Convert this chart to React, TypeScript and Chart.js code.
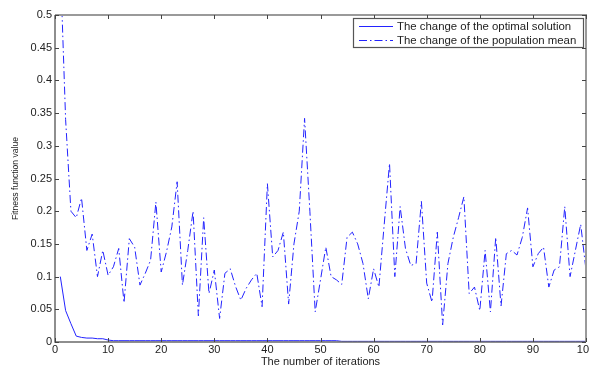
import React, { useEffect, useRef } from "react";
import { Chart, registerables } from "chart.js";

Chart.register(...registerables);

const ITERATIONS = [
  1, 2, 3, 4, 5, 6, 7, 8, 9, 10, 11, 12, 13, 14, 15, 16, 17, 18, 19, 20,
  21, 22, 23, 24, 25, 26, 27, 28, 29, 30, 31, 32, 33, 34, 35, 36, 37, 38, 39, 40,
  41, 42, 43, 44, 45, 46, 47, 48, 49, 50, 51, 52, 53, 54, 55, 56, 57, 58, 59, 60,
  61, 62, 63, 64, 65, 66, 67, 68, 69, 70, 71, 72, 73, 74, 75, 76, 77, 78, 79, 80,
  81, 82, 83, 84, 85, 86, 87, 88, 89, 90, 91, 92, 93, 94, 95, 96, 97, 98, 99, 100,
];

const OPTIMAL = [
  0.1, 0.048, 0.028, 0.009, 0.007, 0.006, 0.006, 0.005, 0.005, 0.003,
  0.002, 0.002, 0.002, 0.002, 0.002, 0.002, 0.002, 0.002, 0.002, 0.002,
  0.002, 0.002, 0.002, 0.002, 0.002, 0.002, 0.002, 0.002, 0.002, 0.002,
  0.002, 0.002, 0.002, 0.002, 0.002, 0.002, 0.002, 0.002, 0.002, 0.002,
  0.002, 0.002, 0.002, 0.002, 0.002, 0.002, 0.002, 0.002, 0.002, 0.002,
  0.002, 0.002, 0.002, 0.001, 0.001, 0.001, 0.001, 0.001, 0.001, 0.001,
  0.001, 0.001, 0.001, 0.001, 0.001, 0.001, 0.001, 0.001, 0.001, 0.001,
  0.001, 0.001, 0.001, 0.001, 0.001, 0.001, 0.001, 0.001, 0.001, 0.001,
  0.001, 0.001, 0.001, 0.001, 0.001, 0.001, 0.001, 0.001, 0.001, 0.001,
  0.001, 0.001, 0.001, 0.001, 0.001, 0.001, 0.001, 0.001, 0.001, 0.001,
];

const POP_MEAN = [
  0.58, 0.34, 0.2, 0.19, 0.22, 0.14, 0.165, 0.1, 0.14, 0.102,
  0.115, 0.143, 0.06, 0.158, 0.145, 0.087, 0.105, 0.125, 0.214, 0.107,
  0.138, 0.176, 0.245, 0.087, 0.14, 0.2, 0.04, 0.19, 0.074, 0.11,
  0.036, 0.105, 0.112, 0.085, 0.064, 0.082, 0.095, 0.105, 0.054, 0.242,
  0.13, 0.14, 0.168, 0.058, 0.15, 0.2, 0.342, 0.2, 0.046, 0.095,
  0.145, 0.1, 0.095, 0.088, 0.16, 0.168, 0.15, 0.12, 0.066, 0.112,
  0.084, 0.18, 0.273, 0.1, 0.207, 0.143, 0.117, 0.12, 0.215, 0.09,
  0.061, 0.168, 0.026, 0.12, 0.16, 0.19, 0.222, 0.074, 0.084, 0.048,
  0.14, 0.046, 0.16, 0.055, 0.135, 0.14, 0.133, 0.16, 0.205, 0.115,
  0.135, 0.145, 0.084, 0.11, 0.115, 0.207, 0.1, 0.14, 0.18, 0.11,
];

const X_TICKS = [0, 10, 20, 30, 40, 50, 60, 70, 80, 90, 100];
const Y_TICKS = [0, 0.05, 0.1, 0.15, 0.2, 0.25, 0.3, 0.35, 0.4, 0.45, 0.5];
const Y_TICK_LABELS = ["0", "0.05", "0.1", "0.15", "0.2", "0.25", "0.3", "0.35", "0.4", "0.45", "0.5"];

const SERIES_NAMES = ["The change of the optimal solution", "The change of the population mean"];
const X_TITLE = "The number of iterations";
const Y_TITLE = "Fitness function value";

const LINE_COLOR = "rgb(35,35,255)";
const DASH_DOT = [8, 3, 1.5, 3];
const FONT = "'Liberation Sans', Arial, sans-serif";

const boxPlugin = {
  id: "matlabBox",
  afterDatasetsDraw(chart: any) {
    const { ctx, chartArea } = chart;
    const { left, right, top, bottom } = chartArea;
    const xs = chart.scales.x;
    const ys = chart.scales.y;
    ctx.save();
    // box
    ctx.strokeStyle = "#9a9a9a";
    ctx.lineWidth = 2;
    ctx.beginPath();
    ctx.moveTo(left, top);
    ctx.lineTo(right, top);
    ctx.lineTo(right, bottom);
    ctx.stroke();
    ctx.strokeStyle = "#6a6a6a";
    ctx.lineWidth = 1.5;
    ctx.beginPath();
    ctx.moveTo(left, top);
    ctx.lineTo(left, bottom);
    ctx.lineTo(right, bottom);
    ctx.stroke();
    // inward ticks
    ctx.strokeStyle = "#444";
    ctx.lineWidth = 1;
    const tl = 4;
    ctx.beginPath();
    X_TICKS.forEach((v) => {
      const px = Math.round(xs.getPixelForValue(v)) + 0.5;
      ctx.moveTo(px, bottom);
      ctx.lineTo(px, bottom - tl);
      ctx.moveTo(px, top);
      ctx.lineTo(px, top + tl);
    });
    Y_TICKS.forEach((v) => {
      const py = Math.round(ys.getPixelForValue(v)) + 0.5;
      ctx.moveTo(left, py);
      ctx.lineTo(left + tl, py);
      ctx.moveTo(right, py);
      ctx.lineTo(right - tl, py);
    });
    ctx.stroke();

    // legend
    const lx = right - 233;
    const ly = top + 3;
    const lw = 230;
    const lh = 29;
    ctx.fillStyle = "#fff";
    ctx.fillRect(lx, ly, lw, lh);
    ctx.strokeStyle = "#555";
    ctx.lineWidth = 1.2;
    ctx.strokeRect(lx + 0.5, ly + 0.5, lw, lh);
    const rows = [ly + 8, ly + 22];
    chart.data.datasets.forEach((ds: any, i: number) => {
      ctx.strokeStyle = ds.borderColor;
      ctx.lineWidth = 1;
      ctx.setLineDash(ds.borderDash || []);
      ctx.beginPath();
      ctx.moveTo(lx + 6, rows[i] + 0.5);
      ctx.lineTo(lx + 40, rows[i] + 0.5);
      ctx.stroke();
      ctx.setLineDash([]);
      ctx.fillStyle = "#222";
      ctx.font = `11.4px ${FONT}`;
      ctx.textBaseline = "middle";
      ctx.textAlign = "left";
      ctx.fillText(ds.label, lx + 44, rows[i] + 0.5);
    });
    ctx.restore();
  },
};

export default function App() {
  const ref = useRef<HTMLCanvasElement>(null);
  useEffect(() => {
    document.body.style.margin = "0";
    const canvas = ref.current!;
    const chart = new Chart(canvas, {
      type: "line",
      data: {
        datasets: [
          {
            label: SERIES_NAMES[0],
            data: ITERATIONS.map((x, i) => ({ x, y: OPTIMAL[i] })),
            borderColor: LINE_COLOR,
            borderWidth: 1,
            pointRadius: 0,
            tension: 0,
            fill: false,
          },
          {
            label: SERIES_NAMES[1],
            data: ITERATIONS.map((x, i) => ({ x, y: POP_MEAN[i] })),
            borderColor: LINE_COLOR,
            borderWidth: 1,
            borderDash: DASH_DOT,
            pointRadius: 0,
            tension: 0,
            fill: false,
          },
        ],
      },
      options: {
        responsive: false,
        animation: false,
        layout: { padding: { top: 15, right: 3, left: 0, bottom: 0 } },
        plugins: { legend: { display: false }, tooltip: { enabled: false } },
        scales: {
          x: {
            type: "linear",
            min: 0,
            max: 100,
            afterBuildTicks: (s: any) => {
              s.ticks = X_TICKS.map((v) => ({ value: v }));
            },
            afterFit: (s: any) => {
              s.height = 25;
              s.paddingLeft = 0;
              s.paddingRight = 0;
            },
            ticks: {
              autoSkip: false,
              maxRotation: 0,
              color: "#222",
              font: { family: FONT, size: 11 },
              padding: 1,
              callback: (v: any) => String(v),
            },
            grid: { display: false, drawTicks: false },
            border: { display: false },
            title: {
              display: true,
              text: X_TITLE,
              color: "#222",
              font: { family: FONT, size: 11, lineHeight: 1 },
              padding: { top: 0, bottom: 0 },
            },
          },
          y: {
            type: "linear",
            min: 0,
            max: 0.5,
            afterBuildTicks: (s: any) => {
              s.ticks = Y_TICKS.map((v) => ({ value: v }));
            },
            afterFit: (s: any) => {
              s.width = 55;
              s.paddingTop = 0;
              s.paddingBottom = 0;
            },
            ticks: {
              autoSkip: false,
              color: "#222",
              font: { family: FONT, size: 11 },
              padding: 3,
              callback: (v: any) => {
                const idx = Y_TICKS.findIndex((t) => Math.abs(t - v) < 1e-9);
                return idx >= 0 ? Y_TICK_LABELS[idx] : "";
              },
            },
            grid: { display: false, drawTicks: false },
            border: { display: false },
            title: {
              display: true,
              text: Y_TITLE,
              color: "#222",
              font: { family: FONT, size: 8.6 },
              padding: { top: 10, bottom: 0 },
            },
          },
        },
      },
      plugins: [boxPlugin],
    });
    return () => chart.destroy();
  }, []);
  return <canvas ref={ref} width={589} height={367} style={{ display: "block" }} />;
}
